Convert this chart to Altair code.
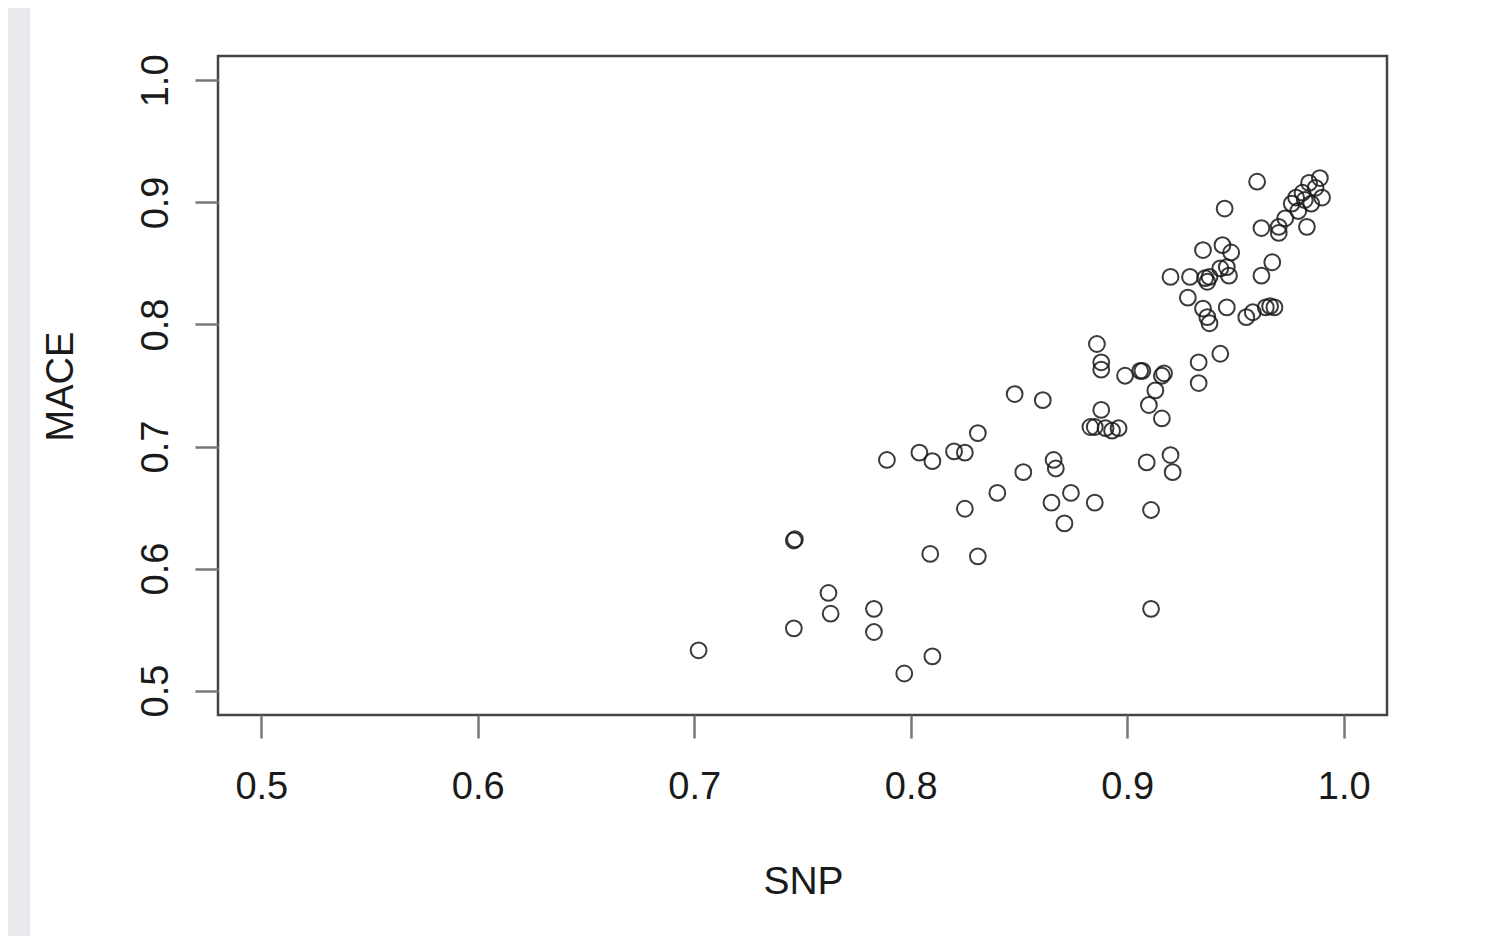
import altair as alt
import pandas as pd

# SNP (x) and MACE (y) values
snp = [
    0.702, 0.746, 0.7465, 0.746, 0.762, 0.763, 0.783, 0.783, 0.789, 0.797,
    0.810, 0.809, 0.804, 0.810, 0.820, 0.825, 0.831, 0.825, 0.831, 0.840,
    0.848, 0.852, 0.861, 0.866, 0.867, 0.865, 0.871, 0.874, 0.885, 0.883,
    0.885, 0.888, 0.890, 0.893, 0.896, 0.886, 0.888, 0.888, 0.899, 0.906,
    0.907, 0.916, 0.917, 0.913, 0.910, 0.916, 0.909, 0.920, 0.921, 0.911,
    0.911, 0.933, 0.943, 0.933,
    0.960, 0.945, 0.989, 0.984, 0.981, 0.978, 0.990, 0.985, 0.976, 0.979,
    0.983, 0.973, 0.970, 0.962, 0.970, 0.987, 0.982, 0.935, 0.944, 0.948,
    0.946, 0.947, 0.943, 0.920, 0.929, 0.936, 0.938, 0.937, 0.962, 0.967,
    0.928, 0.935, 0.937, 0.938, 0.946, 0.955, 0.958, 0.964, 0.968, 0.966,
]
mace = [
    0.533, 0.623, 0.624, 0.551, 0.580, 0.563, 0.567, 0.548, 0.689, 0.514,
    0.528, 0.612, 0.695, 0.688, 0.696, 0.695, 0.711, 0.649, 0.610, 0.662,
    0.743, 0.679, 0.738, 0.689, 0.682, 0.654, 0.637, 0.662, 0.654, 0.716,
    0.716, 0.730, 0.715, 0.713, 0.715, 0.784, 0.769, 0.763, 0.758, 0.762,
    0.762, 0.758, 0.760, 0.746, 0.734, 0.723, 0.687, 0.693, 0.679, 0.648,
    0.567, 0.769, 0.776, 0.752,
    0.917, 0.895, 0.920, 0.916, 0.908, 0.904, 0.904, 0.899, 0.899, 0.893,
    0.880, 0.887, 0.880, 0.879, 0.875, 0.912, 0.902, 0.861, 0.865, 0.859,
    0.847, 0.840, 0.846, 0.839, 0.839, 0.838, 0.839, 0.835, 0.840, 0.851,
    0.822, 0.813, 0.806, 0.801, 0.814, 0.806, 0.810, 0.814, 0.814, 0.815,
]
tick_values = [0.5, 0.6, 0.7, 0.8, 0.9, 1.0]
x_title = "SNP"
y_title = "MACE"

df = pd.DataFrame({"SNP": snp, "MACE": mace})

FONT = "Liberation Sans"
W, H = 1169, 659

panel = alt.Chart(alt.Data(values=[{"k": 1}])).mark_rect(
    color="white"
).encode(
    x=alt.value(-188), x2=alt.value(1265), y=alt.value(-48), y2=alt.value(880)
)

points = alt.Chart(df).mark_point(
    shape="circle", filled=False, size=250, strokeWidth=2,
    color="#1a1a1a", opacity=0.85
).encode(
    x=alt.X("SNP:Q",
            scale=alt.Scale(domain=[0.48, 1.02], nice=False, zero=False),
            axis=alt.Axis(
                values=tick_values, format=".1f", grid=False, domain=False,
                zindex=1,
                tickSize=23, tickWidth=2.5, tickColor="#777777",
                labelFont=FONT, labelFontSize=38, labelColor="#1a1a1a",
                labelBaseline="alphabetic", labelPadding=60,
                labelFlush=False, labelOverlap=False,
                title=x_title, titleFont=FONT, titleFontSize=39,
                titleFontWeight="normal", titleColor="#1a1a1a",
                titleBaseline="alphabetic", titleX=585, titleY=178,
                titleAlign="center",
            )),
    y=alt.Y("MACE:Q",
            scale=alt.Scale(domain=[0.48, 1.02], nice=False, zero=False),
            axis=alt.Axis(
                values=tick_values, format=".1f", grid=False, domain=False,
                zindex=1,
                tickSize=23, tickWidth=2.5, tickColor="#777777",
                labelFont=FONT, labelFontSize=38, labelColor="#1a1a1a",
                labelAngle=270, labelAlign="center",
                labelBaseline="alphabetic", labelPadding=28,
                labelFlush=False, labelOverlap=False,
                title=y_title, titleFont=FONT, titleFontSize=38,
                titleFontWeight="normal", titleColor="#1a1a1a",
                titleAngle=270, titleAlign="center",
                titleBaseline="alphabetic", titleX=-146, titleY=330,
            )),
)

box = alt.Chart(alt.Data(values=[{"k": 1}])).mark_rect(
    fillOpacity=0, stroke="#444444", strokeWidth=2.5
).encode(
    x=alt.value(0), x2=alt.value("width"), y=alt.value(0), y2=alt.value("height")
)

chart = alt.layer(panel, points, box).properties(
    width=W, height=H,
    background="#e9eaed",
    padding={"left": 22, "top": 0, "right": 0, "bottom": 0},
).configure_view(strokeOpacity=0)

chart.save("out.html", embed_options={"renderer": "svg", "actions": False})
